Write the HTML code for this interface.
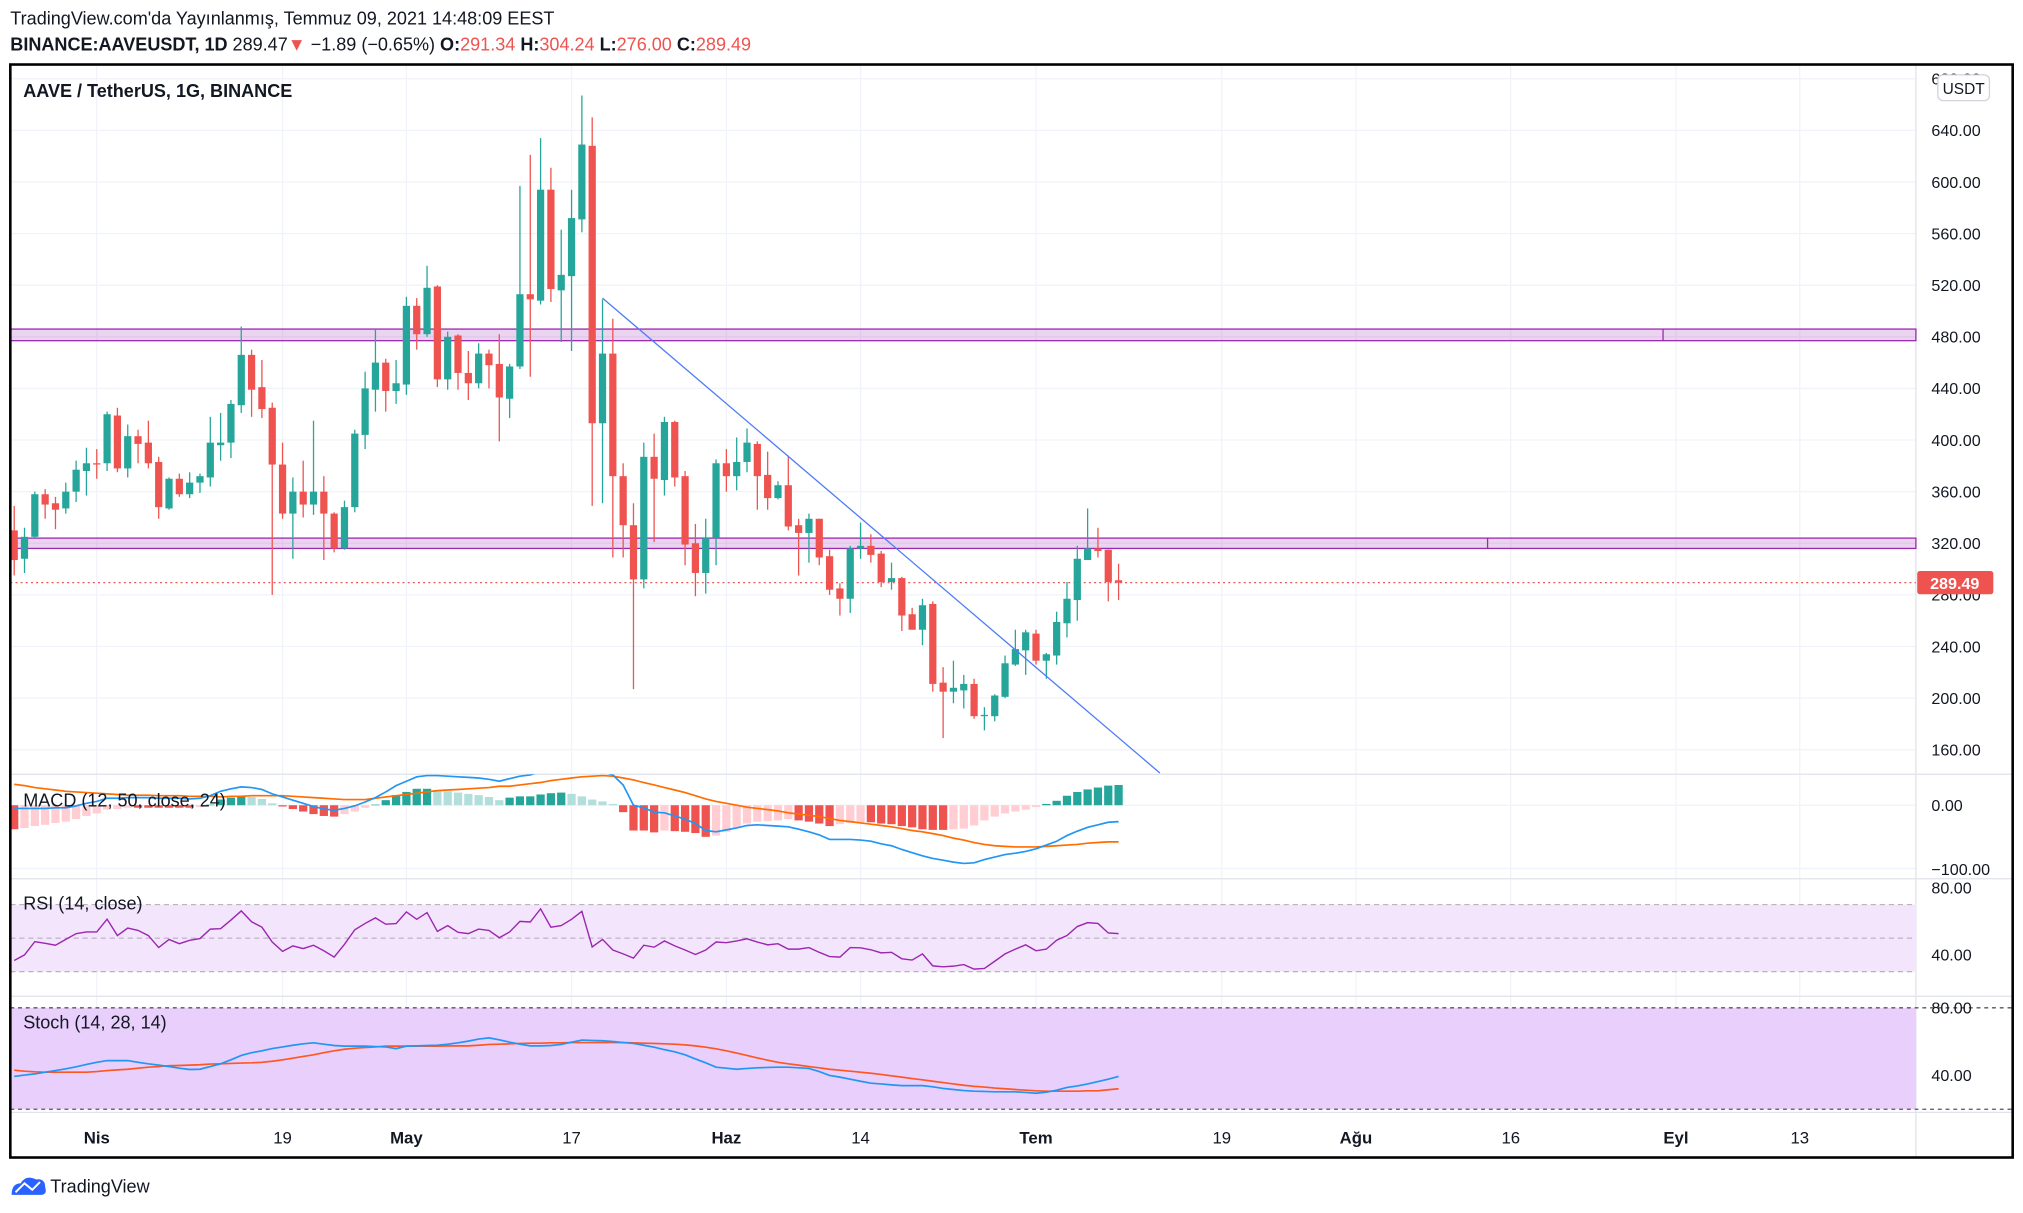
<!DOCTYPE html>
<html><head><meta charset="utf-8">
<style>
html,body{margin:0;padding:0;background:#fff;}
svg{display:block;font-family:"Liberation Sans",sans-serif;}
</style></head>
<body>
<svg id="chart" width="2023" height="1213" viewBox="0 0 1568 940" preserveAspectRatio="none" xmlns="http://www.w3.org/2000/svg">
<rect x="0" y="0" width="1568" height="940" fill="#fff"/>
<text x="8" y="19" font-size="14" fill="#131722">TradingView.com'da Yayınlanmış, Temmuz 09, 2021 14:48:09 EEST</text>
<text x="8" y="39" font-size="14" fill="#131722"><tspan font-weight="bold">BINANCE:AAVEUSDT, 1D</tspan> 289.47<tspan fill="#ef5350">▼</tspan> −1.89 (−0.65%) <tspan font-weight="bold">O:</tspan><tspan fill="#ef5350">291.34</tspan> <tspan font-weight="bold">H:</tspan><tspan fill="#ef5350">304.24</tspan> <tspan font-weight="bold">L:</tspan><tspan fill="#ef5350">276.00</tspan> <tspan font-weight="bold">C:</tspan><tspan fill="#ef5350">289.49</tspan></text>
<g id="grid"></g>
<g id="bands"></g>
<g id="marks"></g>
<g id="axes"></g>
<rect x="8" y="50" width="1552" height="847" fill="none" stroke="#000" stroke-width="2"/>
<text x="18" y="75" font-size="14" font-weight="bold" fill="#131722">AAVE / TetherUS, 1G, BINANCE</text>
<text x="18" y="625" font-size="14" fill="#131722">MACD (12, 50, close, 24)</text>
<text x="18" y="705" font-size="14" fill="#131722">RSI (14, close)</text>
<text x="18" y="797" font-size="14" fill="#131722">Stoch (14, 28, 14)</text>
<rect x="1502" y="58" width="40" height="20" rx="4" fill="#fff" stroke="#d1d4dc"/>
<text x="1522" y="73" font-size="12" text-anchor="middle" fill="#131722">USDT</text>
<g>
<path d="M9 926 Q9 917 16 917 Q20 910 28 914 Q35 913 35 920 Q37 926 31 926 Z" fill="#2962ff"/>
<polyline points="12,924 19,917 25,922 31,916" fill="none" stroke="#fff" stroke-width="1.5"/>
<text x="39" y="924" font-size="14" fill="#131722">TradingView</text>
</g>
</svg>
<script>
const opens=[330,308,325,358,351,347,360,376,382,382,419,378,403,398,383,347,370,358,367,371,396,398,427,466,441,425,381,343,360,350,360,343,316,348,404,439,460,438,443,504,482,519,447,481,452,444,467,459,432,457,513,508,594,516,527,571,628,413,467,372,334,292,387,369,414,372,320,297,324,382,372,383,397,373,355,365,334,328,339,310,285,277,316,318,312,290,293,265,253,273,212,205,206,211,186,186,201,226,237,250,229,233,258,276,307,316,315,291.34];
const highs=[349,332,360,362,356,367,384,394,393,422,425,412,408,415,387,371,374,375,374,418,421,431,488,470,462,429,398,371,384,415,372,344,353,408,453,486,463,462,511,510,535,520,484,482,469,475,470,482,459,597,621,634,611,563,594,667,650,509,494,382,351,398,405,418,415,376,335,339,385,393,402,409,399,391,368,388,339,343,339,315,289,318,336,327,314,305,294,270,277,275,224,229,218,215,193,203,233,253,253,253,235,267,290,318,347,332,315,304.24];
const lows=[295,297,324,339,331,343,352,357,370,376,375,371,382,378,339,346,356,355,359,364,384,386,421,418,417,280,339,308,340,342,307,313,315,344,393,422,422,428,435,470,480,441,439,439,431,440,440,399,417,455,449,505,507,476,469,561,349,351,309,309,207,285,321,357,364,303,279,281,303,360,361,375,346,346,354,330,295,305,303,280,264,266,308,305,286,284,252,253,241,205,169,196,192,184,175,182,200,225,218,226,215,226,247,260,307,309,275,276];
const closes=[307,325,358,350,346,360,377,382,381,420,378,403,397,382,348,370,358,367,372,398,398,428,466,439,424,381,343,360,350,360,343,316,348,405,440,460,438,444,504,482,518,447,480,452,444,467,458,433,457,513,509,594,517,528,572,629,413,467,372,334,292,387,370,414,371,319,297,324,382,372,383,398,372,355,365,333,328,339,309,284,277,316,318,311,290,293,264,253,272,211,205,208,211,186,187,202,227,238,251,229,234,259,277,308,316,314,290,289.49];
const macdLine=[-5,-5,-5,-5,-4,-4,-1,3,6,11,11,12,12,12,11,11,11,10,11,15,22,26,29,28,25,18,13,8,3,-2,-6,-8,-5,-1,5,12,21,31,38,45,47,47,46,45,44,43,41,38,42,46,48,53,58,61,61,59,55,53,48,32,0,-4,-11,-12,-17,-22,-29,-40,-42,-39,-36,-32,-31,-32,-33,-34,-38,-42,-47,-54,-54,-54,-55,-57,-61,-64,-70,-75,-80,-84,-87,-90,-92,-91,-86,-82,-78,-76,-73,-69,-63,-57,-48,-41,-35,-31,-27,-26];
const signalLine=[33,31,28,26,24,22,21,20,19,18,17,16,16,16,15,15,15,14,14,14,13,14,14,15,15,15,15,14,13,12,11,10,9,9,9,11,13,15,17,19,21,23,24,25,26,27,28,30,30,32,34,36,39,41,43,45,46,47,46,43,40,36,32,28,24,20,15,10,6,3,0,-3,-5,-7,-9,-12,-14,-16,-18,-21,-24,-26,-28,-30,-32,-34,-37,-40,-42,-45,-48,-52,-55,-59,-62,-64,-65,-66,-66,-66,-65,-64,-63,-62,-60,-59,-58,-58];
const rsiValues=[36.7,40,47.9,46.9,45.8,49.2,52.7,53.7,53.7,61.3,51.5,56,54.6,51.5,44.4,49.2,46.7,48.7,49.8,55.4,55.6,60.8,66.2,59.8,56.5,47.7,42.1,45.4,43.8,45.8,42.5,38.7,46.3,55,58.8,62.1,58.3,58.7,65.6,61.2,65.2,54,57.5,53.5,52.7,55.4,54.6,50.2,53.7,60,59.6,67.5,56.5,57.5,61.2,66,44.8,49.2,42.9,40.6,38.1,45.8,44.6,48.3,45.4,42.9,40.2,42.9,47.7,47.3,48.3,49.6,47.7,46,46.7,43.5,43.5,44.4,41.5,39,38.7,44.4,44.2,43.1,41.2,41.5,37.7,36.9,40.6,33.5,32.9,33.3,34.2,31.5,31.9,36.2,40.6,43.5,46,42.5,43.5,48.8,51.5,56.9,59.2,58.8,53.1,52.7];
const stochK=[39.4,40.2,40.9,41.9,42.9,43.9,45.1,46.5,47.8,48.8,48.8,48.8,47.8,46.9,46.1,45.3,44.3,43.5,43.7,45.3,46.9,49.2,51.8,53.4,54.6,55.9,56.9,57.9,58.7,59.3,58.5,57.7,57.3,57.3,57.3,57.1,56.9,55.9,57.3,57.5,57.7,57.9,58.5,59.3,60.3,61.5,62.2,61.1,59.7,58.5,57.5,57.5,57.7,58.3,59.7,60.9,60.7,60.5,60.1,59.5,58.9,57.9,56.7,55.3,54,52.2,49.8,47.5,44.9,44.3,43.7,44.1,44.5,44.7,44.9,44.9,44.5,44.1,42.3,40,39,37.8,36.6,35.4,35,34.4,34,34,34,33.3,32.3,31.7,31.1,30.7,30.5,30.3,30.3,30.3,29.9,29.5,30.1,31.3,32.9,33.8,35,36.4,37.8,39.4];
const stochD=[43.1,42.5,42.1,41.9,41.9,41.9,41.9,41.9,42.3,42.9,43.3,43.7,44.3,44.9,45.3,45.7,45.9,46.1,46.3,46.7,46.9,47.1,47.3,47.5,47.8,48.4,49.2,50.2,51.2,52.2,53.4,54.6,55.5,56.1,56.5,56.9,57.3,57.3,57.3,57.3,57.3,57.3,57.5,57.5,57.5,57.9,58.3,58.5,58.7,58.9,59.1,59.1,59.3,59.3,59.5,59.5,59.5,59.5,59.5,59.5,59.3,59.1,58.9,58.7,58.5,58.1,57.5,56.7,55.7,54.6,53.2,51.8,50.4,49,47.8,46.9,46.1,45.3,44.5,43.7,43.1,42.5,41.9,41.3,40.6,39.8,39,38.2,37.4,36.6,35.8,35,34.2,33.6,33.1,32.5,32.1,31.7,31.3,30.9,30.7,30.7,30.7,30.7,30.9,30.9,31.5,32.1];
const priceTicks=[160,200,240,280,320,360,400,440,480,520,560,600,640,680];
const timeLabels=["Nis","19","May","17","Haz","14","Tem","19","Ağu","16","Eyl","13"];
const timeDays=[0,18,30,46,61,74,91,109,122,137,153,165];
const timeBold=[true,false,true,false,true,false,true,false,true,false,true,false];
const zones=[[477,486],[316,324]];
const trendPts=[[57,510],[111,142]];
const lastPrice=289.49;

const NS="http://www.w3.org/2000/svg";
const gGrid=document.getElementById('grid'),gBands=document.getElementById('bands'),gMarks=document.getElementById('marks'),gAxes=document.getElementById('axes');
function mk(tag,attrs,parent){const e=document.createElementNS(NS,tag);for(const k in attrs)e.setAttribute(k,attrs[k]);parent.appendChild(e);return e;}
const X0=8,X1=1485;
const xDay=d=>75+8*d;
const xIdx=i=>xDay(i-8);
const yPrice=p=>741-p;
const yMacd=v=>624-0.49*v;
const yRsi=v=>688+(80-v)*1.3;
const yStoch=v=>781+(80-v)*1.31;

const defs=mk('defs',{},gMarks);
[['clipPrice',51,549],['clipMacd',600,81],['clipRsi',681,90],['clipStoch',772,90]].forEach(c=>{const cp=mk('clipPath',{id:c[0]},defs);mk('rect',{x:X0,y:c[1],width:X1-X0,height:c[2]},cp);});

timeDays.forEach(d=>{const l=mk('line',{x1:xDay(d),x2:xDay(d),y1:51,y2:862,stroke:'#f0f3fa','stroke-width':1},gGrid);

});
priceTicks.forEach(p=>{const l=mk('line',{x1:X0,x2:X1,y1:yPrice(p),y2:yPrice(p),stroke:'#f0f3fa'},gGrid);

});
[[yMacd(0)],[yMacd(-100)],[yRsi(40)],[yStoch(40)]].forEach(v=>{const l=mk('line',{x1:X0,x2:X1,y1:v[0],y2:v[0],stroke:'#f0f3fa'},gGrid);

});
[600,681,772,862].forEach(y=>{const l=mk('line',{x1:X0,x2:1560,y1:y,y2:y,stroke:'#e0e3eb'},gGrid);

});
mk('line',{x1:X1,x2:X1,y1:51,y2:896,stroke:'#e0e3eb'},gGrid);

const rb=mk('rect',{x:X0,y:yRsi(70),width:X1-X0,height:yRsi(30)-yRsi(70),fill:'#f3e6fc'},gBands);


[70,50,30].forEach(v=>{const l=mk('line',{x1:X0,x2:X1,y1:yRsi(v),y2:yRsi(v),stroke:'#b2a8b8','stroke-dasharray':'4 3','stroke-width':0.8},gBands);

});
const sb=mk('rect',{x:X0,y:yStoch(80),width:X1-X0,height:yStoch(20)-yStoch(80),fill:'#e9cffc'},gBands);


[80,20].forEach(v=>{const l=mk('line',{x1:X0,x2:1560,y1:yStoch(v),y2:yStoch(v),stroke:'#555','stroke-dasharray':'3 3','stroke-width':1},gBands);

});

zones.forEach((z,i)=>{const r=mk('rect',{x:X0,y:yPrice(z[1]),width:X1-X0,height:yPrice(z[0])-yPrice(z[1]),fill:'rgba(156,39,176,0.2)',stroke:'#9c27b0','stroke-width':1},gBands);


const mx=i===0?1289:1153;
mk('line',{x1:mx,x2:mx,y1:yPrice(z[1]),y2:yPrice(z[0]),stroke:'#9c27b0'},gBands);});

const lp=mk('line',{x1:X0,x2:X1,y1:yPrice(lastPrice),y2:yPrice(lastPrice),stroke:'#ef5350','stroke-dasharray':'1.5 2.5','stroke-width':1},gMarks);



const gC=mk('g',{'clip-path':'url(#clipPrice)'},gMarks);
opens.forEach((o,i)=>{const c=closes[i],up=c>=o,col=up?'#26a69a':'#ef5350',x=xIdx(i);
const w=mk('line',{x1:x,x2:x,y1:yPrice(highs[i]),y2:yPrice(lows[i]),stroke:col,'stroke-width':1},gC);


const top=yPrice(Math.max(o,c)),h=Math.max(1,Math.abs(yPrice(o)-yPrice(c)));
const b=mk('rect',{x:x-2.8,y:top,width:5.6,height:h,fill:col},gC);

});

const tl=mk('line',{x1:xIdx(trendPts[0][0]),y1:yPrice(trendPts[0][1]),x2:xIdx(trendPts[1][0]),y2:yPrice(trendPts[1][1]),stroke:'#4d7cf5','stroke-width':1},gMarks);



const gM=mk('g',{'clip-path':'url(#clipMacd)'},gMarks);
let prevH=null;
macdLine.forEach((m,i)=>{const hv=m-signalLine[i];let col;
if(hv>=0)col=(prevH===null||hv>=prevH)?'#26a69a':'#b2dfdb';else col=(prevH===null||hv<=prevH)?'#ef5350':'#ffcdd2';
prevH=hv;const y0=yMacd(0),y1=yMacd(hv);
const r=mk('rect',{x:xIdx(i)-3.2,y:Math.min(y0,y1),width:6.4,height:Math.max(0.5,Math.abs(y1-y0)),fill:col},gM);

});
function line(arr,yf,col,parent,name,w){const d=arr.map((v,i)=>(i?'L':'M')+xIdx(i).toFixed(1)+' '+yf(v).toFixed(1)).join(' ');
const p=mk('path',{d:d,fill:'none',stroke:col,'stroke-width':w||1.3},parent);

}
line(signalLine,yMacd,'#ff6d00',gM,'macd-signal-line');
line(macdLine,yMacd,'#2196f3',gM,'macd-line');

const gR=mk('g',{'clip-path':'url(#clipRsi)'},gMarks);
line(rsiValues,yRsi,'#9c27b0',gR,'rsi-line',1.1);

const gS=mk('g',{'clip-path':'url(#clipStoch)'},gMarks);
line(stochD,yStoch,'#ff5722',gS,'stoch-d-line');
line(stochK,yStoch,'#2196f3',gS,'stoch-k-line');

priceTicks.forEach(p=>{const t=mk('text',{x:1497,y:yPrice(p)+4.5,'font-size':12.5,fill:'#131722'},gAxes);t.textContent=p.toFixed(2);

});
[[yMacd(0)+4.5,'0.00'],[yMacd(-100)+5,'−100.00'],[yRsi(80)+4.5,'80.00'],[yRsi(40)+4.5,'40.00'],[yStoch(80)+4.5,'80.00'],[yStoch(40)+4.5,'40.00']].forEach(a=>{
const t=mk('text',{x:1497,y:a[0],'font-size':12.5,fill:'#131722'},gAxes);t.textContent=a[1];

});
timeLabels.forEach((s,i)=>{const t=mk('text',{x:xDay(timeDays[i]),y:886,'font-size':13,'text-anchor':'middle',fill:'#131722','font-weight':timeBold[i]?'bold':'normal'},gAxes);t.textContent=s;

});
const yl=yPrice(lastPrice);
const pr=mk('rect',{x:1486,y:yl-9,width:59,height:18,rx:2,fill:'#ef5350'},gAxes);


const pt=mk('text',{x:1496,y:yl+5,'font-size':12.5,'font-weight':'bold',fill:'#fff'},gAxes);pt.textContent=lastPrice.toFixed(2);


</script>
</body></html>
